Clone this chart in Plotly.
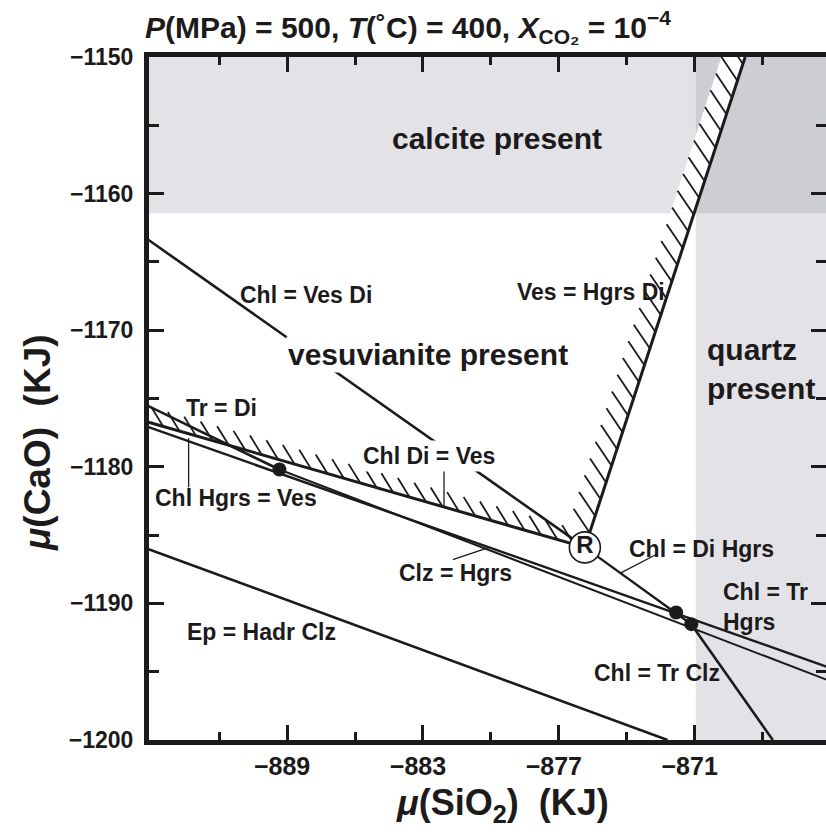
import plotly.graph_objects as go

# ---------------- data (kJ) ----------------
x_range = [-895.1, -865.2]
y_range = [-1200.0, -1150.0]
x_major = [-889, -883, -877, -871]
x_minor = [-892, -886, -880, -874, -868]
y_major = [-1200, -1190, -1180, -1170, -1160, -1150]
y_minor = [-1195, -1185, -1175, -1165, -1155]

calcite_floor = -1161.45      # calcite present above this mu(CaO)
quartz_wall = -870.95         # quartz present above this mu(SiO2)

# invariant point R and filled invariant points
R_x, R_y = -875.85, -1185.9
dots_x = [-889.34, -871.82, -871.15]
dots_y = [-1180.2, -1190.67, -1191.52]

# reaction lines (end points)
chl_ves_di_x = [-895.2, -875.85]
chl_ves_di_y = [-1163.3, -1185.9]
ves_hgrs_di_x = [-875.85, -868.77]
ves_hgrs_di_y = [-1185.9, -1150.0]
chl_di_ves_x = [-895.2, -875.85]
chl_di_ves_y = [-1176.7, -1185.9]
tr_di_x = [-895.2, -889.34]
tr_di_y = [-1175.5, -1180.2]
clz_hgrs_x = [-895.2, -865.0]
clz_hgrs_y = [-1177.05, -1194.73]
chl_tr_hgrs_x = [-889.34, -865.0]
chl_tr_hgrs_y = [-1180.2, -1195.7]
chl_di_hgrs_x = [-875.85, -871.15]
chl_di_hgrs_y = [-1185.9, -1191.52]
chl_tr_clz_x = [-871.15, -867.55]
chl_tr_clz_y = [-1191.52, -1200.0]
ep_hadr_clz_x = [-895.2, -872.2]
ep_hadr_clz_y = [-1185.98, -1200.0]

# labels
big_text = ["calcite present", "vesuvianite present", "quartz<br>present"]
big_x = [-879.73, -882.8, -870.55]
big_y = [-1155.98, -1171.8, -1172.85]

small_text = ["Chl = Ves Di", "Ves = Hgrs Di", "Tr = Di", "Chl Hgrs = Ves",
              "Chl Di = Ves", "Clz = Hgrs", "Chl = Di Hgrs", "Chl = Tr<br>Hgrs",
              "Ep = Hadr Clz", "Chl = Tr Clz"]
small_x = [-888.18, -875.56, -891.91, -891.25, -882.73, -881.58, -870.68,
           -869.9, -890.15, -872.68]
small_y = [-1167.42, -1167.17, -1175.73, -1182.29, -1179.2, -1187.76, -1186.0,
           -1190.29, -1192.06, -1195.1]

# label leader lines
leader_x = [[-893.35, -893.35], [-882.07, -882.07], [-881.68, -880.14], [-872.68, -874.3]]
leader_y = [[-1177.9, -1181.5], [-1179.95, -1182.93], [-1186.79, -1185.93], [-1186.4, -1187.8]]

# ---------------- style ----------------
FONT = "Liberation Sans Narrow, Arial Narrow, Liberation Sans, Arial, sans-serif"
INK = "#1c1a1b"
LIGHT = "#e3e3e7"
DARK = "#cdced4"

fig = go.Figure()

# background regions
fig.add_shape(type="rect", xref="x", yref="y", x0=-896, x1=-864, y0=calcite_floor, y1=-1149,
              fillcolor=LIGHT, line_width=0, layer="below")
fig.add_shape(type="rect", xref="x", yref="y", x0=quartz_wall, x1=-864, y0=-1201, y1=calcite_floor,
              fillcolor=LIGHT, line_width=0, layer="below")
fig.add_shape(type="rect", xref="x", yref="y", x0=quartz_wall, x1=-864, y0=calcite_floor, y1=-1149,
              fillcolor=DARK, line_width=0, layer="below")


def on_line(xs, ys, t):
    return xs[0] + t * (xs[1] - xs[0]), ys[0] + t * (ys[1] - ys[0])


# white band to the left of Ves = Hgrs Di inside calcite field
band_w = 1.05
sl = (ves_hgrs_di_x[1] - ves_hgrs_di_x[0]) / (ves_hgrs_di_y[1] - ves_hgrs_di_y[0])
def xl(y):
    return ves_hgrs_di_x[0] + (y - ves_hgrs_di_y[0]) * sl
yb, yt = calcite_floor, -1149.0
fig.add_trace(go.Scatter(x=[xl(yb), xl(yt), xl(yt) - band_w, xl(yb) - band_w, xl(yb)],
                         y=[yb, yt, yt, yb, yb], fill="toself", fillcolor="white",
                         line=dict(width=0), mode="lines", hoverinfo="skip", showlegend=False))

# hatches
def hatch(xs, ys, n, t0, t1, dx, dy):
    hx, hy = [], []
    for i in range(n):
        t = t0 + (t1 - t0) * i / (n - 1)
        px, py = on_line(xs, ys, t)
        hx += [px, px + dx, None]
        hy += [py, py + dy, None]
    return hx, hy

hx1, hy1 = hatch(chl_di_ves_x, chl_di_ves_y, 27, 0.0, 0.975, -0.52, 1.4)
hx2, hy2 = hatch(ves_hgrs_di_x, ves_hgrs_di_y, 30, 0.03, 1.02, -0.71, 1.75)
fig.add_trace(go.Scatter(x=hx1 + hx2, y=hy1 + hy2, mode="lines",
                         line=dict(color=INK, width=1.8), hoverinfo="skip", showlegend=False))

# reaction lines
lines = [
    (chl_ves_di_x, chl_ves_di_y, 2.6),
    (ves_hgrs_di_x, ves_hgrs_di_y, 3.0),
    (chl_di_ves_x, chl_di_ves_y, 3.0),
    (tr_di_x, tr_di_y, 2.6),
    (clz_hgrs_x, clz_hgrs_y, 2.4),
    (chl_tr_hgrs_x, chl_tr_hgrs_y, 2.0),
    (chl_di_hgrs_x, chl_di_hgrs_y, 2.4),
    (chl_tr_clz_x, chl_tr_clz_y, 2.6),
    (ep_hadr_clz_x, ep_hadr_clz_y, 2.6),
]
for xs, ys, w in lines:
    fig.add_trace(go.Scatter(x=xs, y=ys, mode="lines", line=dict(color=INK, width=w),
                             hoverinfo="skip", showlegend=False))

# leaders
for xs, ys in zip(leader_x, leader_y):
    fig.add_trace(go.Scatter(x=xs, y=ys, mode="lines", line=dict(color=INK, width=1.3),
                             hoverinfo="skip", showlegend=False))

# filled invariant points
fig.add_trace(go.Scatter(x=dots_x, y=dots_y, mode="markers",
                         marker=dict(color=INK, size=14, line=dict(width=0)),
                         hoverinfo="skip", showlegend=False))
# point R
fig.add_trace(go.Scatter(x=[R_x], y=[R_y], mode="markers+text", text=["<b>R</b>"],
                         textposition="middle center",
                         textfont=dict(family=FONT, size=24, color=INK),
                         marker=dict(color="white", size=31, line=dict(color=INK, width=1.6)),
                         hoverinfo="skip", showlegend=False))

# invisible trace for the mirrored right-hand ticks
fig.add_trace(go.Scatter(x=[-880], y=[-1175], yaxis="y2", mode="markers",
                         marker=dict(opacity=0), hoverinfo="skip", showlegend=False))

# labels
for t, x, y in zip(big_text, big_x, big_y):
    left = "<br>" in t
    fig.add_annotation(x=x, y=y, xref="x", yref="y", text=f"<b>{t}</b>", showarrow=False,
                       xanchor="left" if left else "center", yanchor="middle", align="left",
                       font=dict(family=FONT, size=30, color=INK),
                       bgcolor="white" if t.startswith("vesu") else None, borderpad=1)
for t, x, y in zip(small_text, small_x, small_y):
    left = "<br>" in t
    fig.add_annotation(x=x, y=y, xref="x", yref="y", text=f"<b>{t}</b>", showarrow=False,
                       xanchor="left" if left else "center", yanchor="middle", align="left",
                       font=dict(family=FONT, size=23, color=INK),
                       bgcolor="white" if t == "Chl Di = Ves" else None, borderpad=2)

# axis titles
PL, PR, PT, PB = 149, 826, 57, 740
def px_to_paper(px, py):
    return (px - PL) / (PR - PL), (PB - py) / (PB - PT)

ax, ay = px_to_paper(502, 805)
fig.add_annotation(x=ax, y=ay, xref="paper", yref="paper", showarrow=False,
                   xanchor="center", yanchor="middle",
                   text="<b><i>μ</i>(SiO<sub>2</sub>)\u00a0\u00a0(KJ)</b>",
                   font=dict(family=FONT, size=36, color=INK))
ax, ay = px_to_paper(37, 443)
fig.add_annotation(x=ax, y=ay, xref="paper", yref="paper", showarrow=False, textangle=-90,
                   xanchor="center", yanchor="middle",
                   text="<b><i>μ</i>(CaO)\u00a0\u00a0(KJ)</b>",
                   font=dict(family=FONT, size=37, color=INK))

tickfont_x = dict(family=FONT, size=25, color=INK, weight="bold")
tickfont_y = dict(family=FONT, size=23, color=INK, weight="bold")

fig.update_layout(
    width=826, height=834,
    margin=dict(l=PL, r=0, t=PT, b=834 - PB),
    paper_bgcolor="white", plot_bgcolor="white",
    title=dict(text="<b><i>P</i>(MPa) = 500, <i>T</i>(˚C) = 400, <i>X</i><sub>CO₂</sub> = 10<sup>−4</sup></b>",
               x=408 / 826, xanchor="center", y=1 - 27 / 834, yanchor="middle",
               font=dict(family=FONT, size=30, color=INK)),
    xaxis=dict(range=x_range, showgrid=False, zeroline=False,
               showline=True, linecolor=INK, linewidth=5, mirror="ticks",
               tickmode="array", tickvals=x_major, ticktext=[f"−{abs(v)}" for v in x_major],
               ticks="inside", ticklen=15, tickwidth=2.5, tickcolor=INK,
               minor=dict(tickmode="array", tickvals=x_minor, ticks="inside", ticklen=8,
                          tickwidth=2.5, tickcolor=INK, showgrid=False),
               tickfont=tickfont_x, ticklabelstandoff=0, ticklabelshift=-5),
    yaxis=dict(range=y_range, showgrid=False, zeroline=False,
               showline=True, linecolor=INK, linewidth=5, mirror=False,
               tickmode="array", tickvals=y_major, ticktext=[f"−{abs(v)}" for v in y_major],
               ticks="inside", ticklen=15, tickwidth=2.5, tickcolor=INK,
               minor=dict(tickmode="array", tickvals=y_minor, ticks="inside", ticklen=10,
                          tickwidth=2.5, tickcolor=INK, showgrid=False),
               tickfont=tickfont_y, ticklabelstandoff=6),
    yaxis2=dict(range=y_range, overlaying="y", side="right", showgrid=False, zeroline=False,
                showline=False, showticklabels=False,
                tickmode="array", tickvals=y_major,
                ticks="inside", ticklen=15, tickwidth=2.5, tickcolor=INK,
                minor=dict(tickmode="array", tickvals=y_minor, ticks="inside", ticklen=10,
                           tickwidth=2.5, tickcolor=INK, showgrid=False)),
)

fig.write_html("out.html")
